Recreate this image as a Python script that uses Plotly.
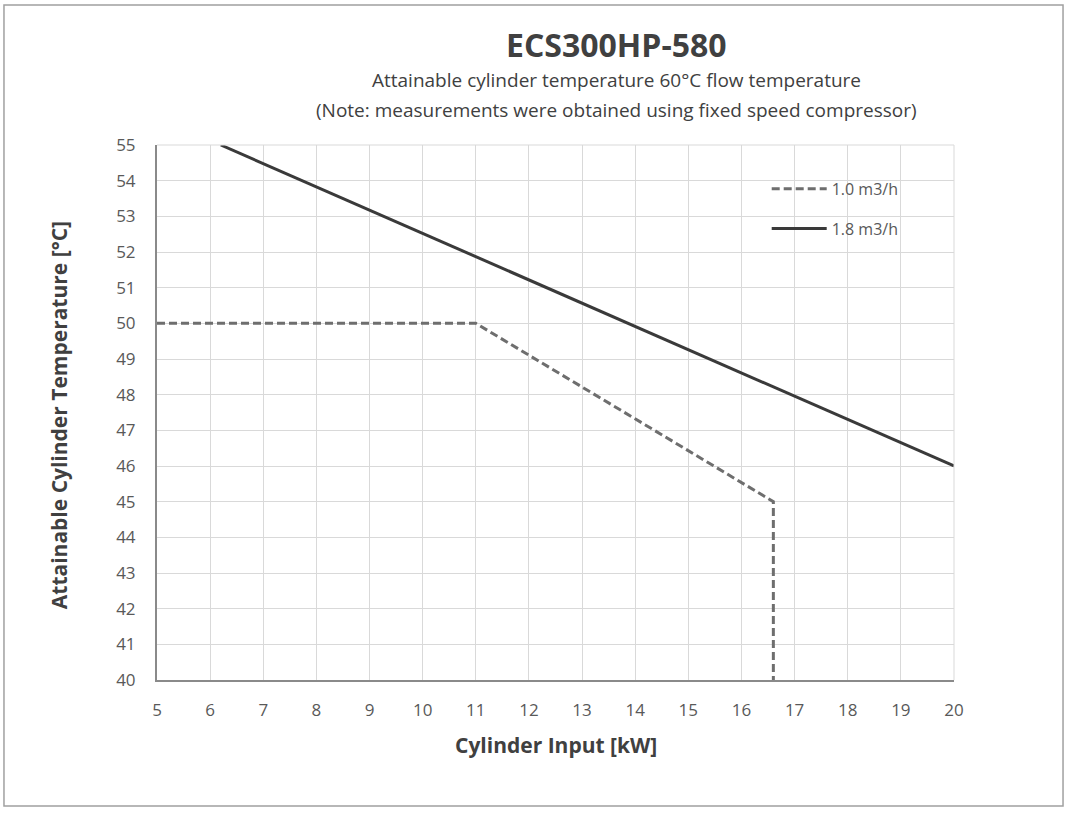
import plotly.graph_objects as go

# Data
flow_10_x = [5, 11, 16.6, 16.6]
flow_10_y = [50, 50, 45, 40]
flow_18_x = [6.2, 20]
flow_18_y = [55, 46]
series_names = ["1.0 m3/h", "1.8 m3/h"]
x_ticks = list(range(5, 21))
y_ticks = list(range(40, 56))

FONT = "Open Sans"
TXT = "#404040"
TICK = "#595959"

fig = go.Figure()
fig.add_trace(go.Scatter(x=flow_10_x, y=flow_10_y, mode="lines", name=series_names[0],
                         legendgroup="a",
                         line=dict(color="#6e6e6e", width=3, dash="8px,4px")))
fig.add_trace(go.Scatter(x=flow_18_x, y=flow_18_y, mode="lines", name=series_names[1],
                         legendgroup="b",
                         line=dict(color="#3a3a3a", width=3)))

fig.update_layout(
    width=1065, height=815,
    margin=dict(l=157, r=111, t=145, b=135),
    paper_bgcolor="white", plot_bgcolor="white",
    font=dict(family=FONT, color=TICK, size=16),
    showlegend=True,
    legend=dict(x=0.765, y=0.95, xanchor="left", yanchor="top",
                bgcolor="rgba(0,0,0,0)", font=dict(size=16, color=TICK),
                itemwidth=55, tracegroupgap=16),
    xaxis=dict(range=[5, 20], tickvals=x_ticks, showgrid=True, gridcolor="#d9d9d9",
               gridwidth=1, showline=True, linecolor="#8a8a8a", linewidth=2,
               zeroline=False, ticks="", tickfont=dict(size=17, color=TICK),
               ticklabelstandoff=14),
    yaxis=dict(range=[40, 55], tickvals=y_ticks, showgrid=True, gridcolor="#d9d9d9",
               gridwidth=1, showline=True, linecolor="#8a8a8a", linewidth=2,
               zeroline=False, ticks="", tickfont=dict(size=17, color=TICK),
               ticklabelstandoff=16),
    shapes=[
        dict(type="rect", xref="paper", yref="paper", x0=-0.192, x1=1.1368,
             y0=-0.2355, y1=1.2617, line=dict(color="#a0a0a0", width=1.5),
             fillcolor="rgba(0,0,0,0)", layer="below"),
        dict(type="line", xref="paper", yref="paper", x0=1, x1=1, y0=0, y1=1,
             line=dict(color="#d9d9d9", width=1)),
        dict(type="line", xref="paper", yref="paper", x0=0, x1=1, y0=1, y1=1,
             line=dict(color="#d9d9d9", width=1)),
    ],
    annotations=[
        dict(text="<b>ECS300HP-580</b>", x=0.576, y=1.187, xref="paper", yref="paper",
             xanchor="center", yanchor="middle", showarrow=False,
             font=dict(size=32, color=TXT, family=FONT)),
        dict(text="Attainable cylinder temperature 60°C flow temperature", x=0.576, y=1.1215,
             xref="paper", yref="paper", xanchor="center", yanchor="middle", showarrow=False,
             font=dict(size=19, color=TXT, family=FONT)),
        dict(text="(Note: measurements were obtained using fixed speed compressor)", x=0.576,
             y=1.0654, xref="paper", yref="paper", xanchor="center", yanchor="middle",
             showarrow=False, font=dict(size=19, color=TXT, family=FONT)),
        dict(text="<b>Cylinder Input [kW]</b>", x=0.5006, y=-0.1215, xref="paper", yref="paper",
             xanchor="center", yanchor="middle", showarrow=False,
             font=dict(size=21, color=TXT, family=FONT)),
        dict(text="<b>Attainable Cylinder Temperature [°C]</b>", x=-0.1229, y=0.495,
             xref="paper", yref="paper", xanchor="center", yanchor="middle",
             showarrow=False, textangle=-90,
             font=dict(size=21, color=TXT, family=FONT)),
    ],
)

fig.write_html("out.html")
